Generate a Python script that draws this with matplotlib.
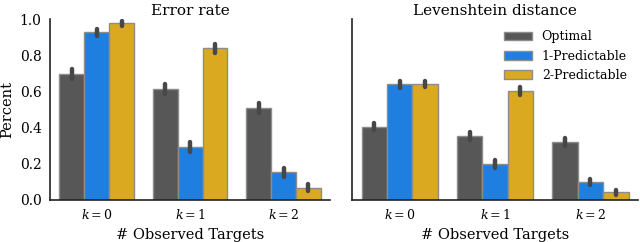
import matplotlib
matplotlib.use("Agg")
import matplotlib.pyplot as plt
import numpy as np

categories = [r"$k=0$", r"$k=1$", r"$k=2$"]
series = ["Optimal", "1-Predictable", "2-Predictable"]
colors = ["#575757", "#1f7fe0", "#dba920"]

error_rate = {
    "Optimal": [0.696, 0.613, 0.510],
    "1-Predictable": [0.926, 0.295, 0.153],
    "2-Predictable": [0.976, 0.838, 0.068],
}
error_rate_err = {
    "Optimal": [0.026, 0.026, 0.028],
    "1-Predictable": [0.02, 0.028, 0.026],
    "2-Predictable": [0.014, 0.026, 0.021],
}
leven = {
    "Optimal": [0.405, 0.354, 0.322],
    "1-Predictable": [0.640, 0.197, 0.100],
    "2-Predictable": [0.640, 0.602, 0.042],
}
leven_err = {
    "Optimal": [0.02, 0.022, 0.022],
    "1-Predictable": [0.02, 0.022, 0.018],
    "2-Predictable": [0.018, 0.02, 0.014],
}

plt.rcParams["font.family"] = "DejaVu Serif"
plt.rcParams["mathtext.fontset"] = "dejavuserif"

fig = plt.figure(figsize=(6.4, 2.42), dpi=100)
ax1 = fig.add_axes([0.078, 0.174, 0.438, 0.747])
ax2 = fig.add_axes([0.550, 0.174, 0.447, 0.747])

width = 0.8 / 3
x = np.arange(len(categories))

def draw(ax, data, err, title):
    for i, s in enumerate(series):
        pos = x - 0.8 / 2 + width * (i + 0.5)
        ax.bar(pos, data[s], width, color=colors[i], edgecolor="#8c8c8c",
               linewidth=1.0, label=s, zorder=2)
        eb = ax.errorbar(pos, data[s], yerr=err[s], fmt="none", ecolor="#474747",
                         elinewidth=3.2, capsize=0, zorder=3)
        for lc in eb.lines[2]:
            lc.set_capstyle("round")
    ax.set_xlim(-0.5, 2.5)
    ax.set_ylim(0, 1.0)
    ax.set_xticks(x)
    ax.set_xticklabels(categories, fontsize=9)
    ax.set_title(title, fontsize=11, pad=3)
    ax.set_xlabel("# Observed Targets", fontsize=10.5, labelpad=4)
    for sp in ["top", "right"]:
        ax.spines[sp].set_visible(False)
    for sp in ["left", "bottom"]:
        ax.spines[sp].set_color("#222222")
        ax.spines[sp].set_linewidth(1.2)
    ax.tick_params(length=0, pad=6)

draw(ax1, error_rate, error_rate_err, "Error rate")
draw(ax2, leven, leven_err, "Levenshtein distance")
ax1.set_yticks([0, 0.2, 0.4, 0.6, 0.8, 1.0])
ax1.set_yticklabels(["0.0", "0.2", "0.4", "0.6", "0.8", "1.0"], fontsize=10)
ax1.set_ylabel("Percent", fontsize=10.5, labelpad=4)
ax2.set_yticks([])
ax2.legend(loc="upper right", frameon=False, fontsize=9, handlelength=2.2,
           handleheight=0.7, borderaxespad=0.5, labelspacing=0.5,
           handletextpad=0.8, borderpad=0.4)

fig.savefig("out.png", dpi=100)
